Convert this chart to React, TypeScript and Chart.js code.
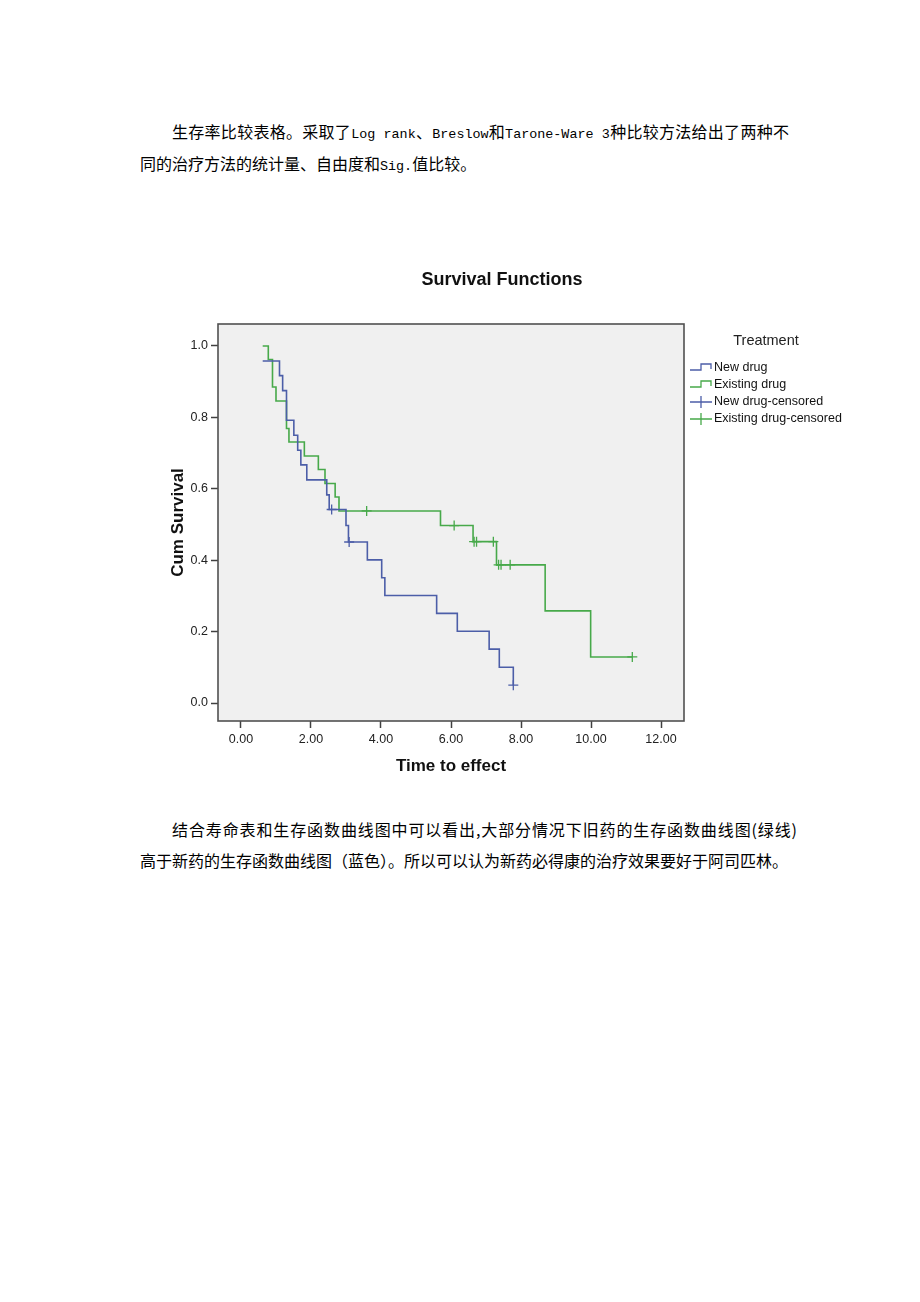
import React, { useEffect, useRef } from 'react';
import { Chart, registerables } from 'chart.js';

Chart.register(...registerables);

// ---------- data ----------
const newDrugTimes = [0.62, 1.10, 1.19, 1.30, 1.51, 1.62, 1.71, 1.88, 2.45, 2.52, 3.00, 3.07, 3.61, 4.02, 4.11, 5.59, 6.18, 7.09, 7.38, 7.78];
const newDrugSurv = [0.958, 0.917, 0.875, 0.792, 0.750, 0.708, 0.667, 0.625, 0.583, 0.542, 0.497, 0.451, 0.401, 0.351, 0.301, 0.251, 0.201, 0.151, 0.100, 0.050];

const existingDrugTimes = [0.62, 0.78, 0.90, 1.00, 1.30, 1.37, 1.81, 2.21, 2.40, 2.69, 2.80, 5.70, 6.63, 7.30, 8.69, 9.99, 11.18];
const existingDrugSurv = [1.0, 0.962, 0.885, 0.846, 0.769, 0.731, 0.692, 0.654, 0.615, 0.577, 0.538, 0.497, 0.452, 0.387, 0.258, 0.129, 0.129];

const newCensorTimes = [2.59, 3.09, 7.78];
const newCensorSurv = [0.542, 0.451, 0.050];

const existingCensorTimes = [3.59, 6.09, 6.66, 6.73, 7.21, 7.36, 7.43, 7.69, 11.18];
const existingCensorSurv = [0.538, 0.497, 0.452, 0.452, 0.452, 0.387, 0.387, 0.387, 0.129];

const xTickValues = [0, 2, 4, 6, 8, 10, 12];
const yTickValues = [0, 0.2, 0.4, 0.6, 0.8, 1.0];

const legendLabels = ['New drug', 'Existing drug', 'New drug-censored', 'Existing drug-censored'];
const chartTitle = 'Survival Functions';
const legendTitle = 'Treatment';
const xAxisTitle = 'Time to effect';
const yAxisTitle = 'Cum Survival';

const para1Line1 = '生存率比较表格。采取了Log rank、Breslow和Tarone-Ware 3种比较方法给出了两种不';
const para1Line2 = '同的治疗方法的统计量、自由度和Sig.值比较。';
const para2Line1 = '结合寿命表和生存函数曲线图中可以看出,大部分情况下旧药的生存函数曲线图(绿线)';
const para2Line2 = '高于新药的生存函数曲线图（蓝色）。所以可以认为新药必得康的治疗效果要好于阿司匹林。';

// ---------- styles ----------
const BLUE = '#4C5EA8';
const GREEN = '#47A94A';
const SANS = '"Liberation Sans", Arial, sans-serif';

const zip = (xs: number[], ys: number[]) => xs.map((x, i) => ({ x, y: ys[i] }));

const decorPlugin = {
  id: 'decor',
  beforeDatasetsDraw(chart: any) {
    const { ctx, chartArea: a } = chart;
    ctx.save();
    ctx.fillStyle = '#F0F0F0';
    ctx.fillRect(a.left, a.top, a.right - a.left, a.bottom - a.top);
    ctx.restore();
  },
  afterDraw(chart: any) {
    const { ctx, chartArea: a } = chart;
    ctx.save();
    // frame
    ctx.strokeStyle = '#505050';
    ctx.lineWidth = 1.6;
    ctx.strokeRect(a.left, a.top, a.right - a.left, a.bottom - a.top);

    ctx.fillStyle = '#111';
    ctx.textBaseline = 'middle';
    // title
    ctx.font = `bold 18px ${SANS}`;
    ctx.textAlign = 'center';
    ctx.fillText(chartTitle, 352, 30);
    // x title
    ctx.font = `bold 17px ${SANS}`;
    ctx.fillText(xAxisTitle, (a.left + a.right) / 2, 516);
    // y title
    ctx.save();
    ctx.translate(28, (a.top + a.bottom) / 2);
    ctx.rotate(-Math.PI / 2);
    ctx.fillText(yAxisTitle, 0, 0);
    ctx.restore();

    // legend
    ctx.font = `14.5px ${SANS}`;
    ctx.fillStyle = '#222';
    ctx.fillText(legendTitle, 616, 91);
    const colors = [BLUE, GREEN, BLUE, GREEN];
    const ys = [118, 135, 152, 169];
    ctx.font = `12.5px ${SANS}`;
    ctx.textAlign = 'left';
    legendLabels.forEach((lab, i) => {
      const y = ys[i];
      ctx.strokeStyle = colors[i];
      ctx.lineWidth = 1.3;
      ctx.beginPath();
      if (i < 2) {
        ctx.moveTo(540, y + 2);
        ctx.lineTo(551, y + 2);
        ctx.lineTo(551, y - 4);
        ctx.lineTo(561, y - 4);
        ctx.lineTo(561, y + 1);
      } else {
        ctx.moveTo(540, y);
        ctx.lineTo(562, y);
        ctx.moveTo(551, y - 6);
        ctx.lineTo(551, y + 6);
      }
      ctx.stroke();
      ctx.fillStyle = '#111';
      ctx.fillText(lab, 564, y);
    });
    ctx.restore();
  },
};

function SurvivalChart() {
  const ref = useRef<HTMLCanvasElement>(null);
  useEffect(() => {
    if (!ref.current) return;
    const tickGrid = {
      drawOnChartArea: false,
      drawTicks: true,
      tickLength: 7,
      tickColor: '#404040',
      tickWidth: 1.5,
    };
    const chart = new Chart(ref.current, {
      data: {
        datasets: [
          {
            type: 'line',
            label: legendLabels[0],
            data: zip(newDrugTimes, newDrugSurv),
            stepped: 'before',
            borderColor: BLUE,
            borderWidth: 1.6,
            pointRadius: 0,
            fill: false,
          },
          {
            type: 'line',
            label: legendLabels[1],
            data: zip(existingDrugTimes, existingDrugSurv),
            stepped: 'before',
            borderColor: GREEN,
            borderWidth: 1.6,
            pointRadius: 0,
            fill: false,
          },
          {
            type: 'scatter',
            label: legendLabels[2],
            data: zip(newCensorTimes, newCensorSurv),
            pointStyle: 'cross',
            pointRadius: 5,
            borderColor: BLUE,
            borderWidth: 1.3,
          },
          {
            type: 'scatter',
            label: legendLabels[3],
            data: zip(existingCensorTimes, existingCensorSurv),
            pointStyle: 'cross',
            pointRadius: 5,
            borderColor: GREEN,
            borderWidth: 1.3,
          },
        ],
      } as any,
      options: {
        animation: false,
        responsive: false,
        devicePixelRatio: 1,
        events: [],
        layout: { padding: { left: 0, top: 74, right: 186, bottom: 0 } },
        plugins: {
          legend: { display: false },
          title: { display: false },
          tooltip: { enabled: false },
        },
        scales: {
          x: {
            type: 'linear',
            min: -0.657,
            max: 12.657,
            afterBuildTicks: (s: any) => {
              s.ticks = xTickValues.map((v) => ({ value: v }));
            },
            afterFit: (s: any) => {
              s.height = 69;
            },
            ticks: {
              autoSkip: false,
              maxRotation: 0,
              padding: 4,
              color: '#222',
              font: { family: SANS, size: 12.5 },
              callback: (v: any) => Number(v).toFixed(2),
            },
            grid: tickGrid,
            border: { display: false },
          },
          y: {
            type: 'linear',
            min: -0.0504,
            max: 1.0616,
            afterBuildTicks: (s: any) => {
              s.ticks = yTickValues.map((v) => ({ value: v }));
            },
            afterFit: (s: any) => {
              s.width = 68;
            },
            ticks: {
              autoSkip: false,
              padding: 3,
              color: '#222',
              font: { family: SANS, size: 12.5 },
              callback: (v: any) => Number(v).toFixed(1),
            },
            grid: tickGrid,
            border: { display: false },
          },
        },
      } as any,
      plugins: [decorPlugin],
    });
    return () => chart.destroy();
  }, []);
  return (
    <canvas
      ref={ref}
      width={720}
      height={540}
      style={{ position: 'absolute', left: 150, top: 250, width: 720, height: 540 }}
    />
  );
}

function MixedText({ text }: { text: string }) {
  const parts = text.split(/([A-Za-z0-9.\- ]+)/).filter((p) => p.length > 0);
  return (
    <>
      {parts.map((p, i) =>
        /^[A-Za-z0-9.\- ]+$/.test(p) ? (
          <span key={i} style={{ fontFamily: '"Liberation Mono", monospace', fontSize: 13.4 }}>
            {p}
          </span>
        ) : (
          <span key={i}>{p}</span>
        )
      )}
    </>
  );
}

function Line({ text, left, centerY, width }: { text: string; left: number; centerY: number; width?: number }) {
  const style: React.CSSProperties = {
    position: 'absolute',
    left,
    top: centerY - 11,
    height: 22,
    lineHeight: '22px',
    fontSize: 16,
    fontFamily: '"Noto Sans CJK SC", sans-serif',
    color: '#000',
    whiteSpace: 'nowrap',
  };
  if (width) {
    style.width = width;
    style.textAlign = 'justify';
    (style as any).textAlignLast = 'justify';
  }
  return (
    <div style={style}>
      <MixedText text={text} />
    </div>
  );
}

export default function App() {
  return (
    <div style={{ position: 'absolute', left: 0, top: 0, width: 920, height: 1302, background: '#fff', overflow: 'hidden' }}>
      <Line text={para1Line1} left={172} centerY={131} width={617} />
      <Line text={para1Line2} left={140} centerY={163} />
      <SurvivalChart />
      <Line text={para2Line1} left={172} centerY={829} width={625} />
      <Line text={para2Line2} left={140} centerY={860} />
    </div>
  );
}
